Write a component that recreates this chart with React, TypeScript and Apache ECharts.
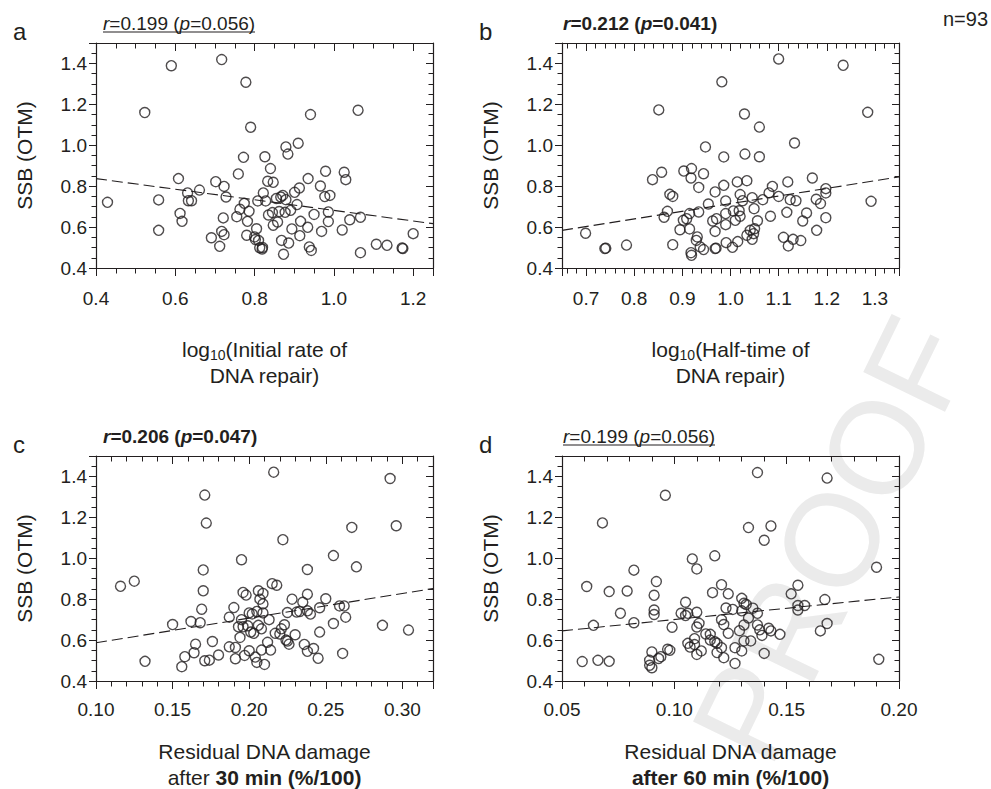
import { useEffect, useRef } from 'react';
import * as echarts from 'echarts';

const FONT = "'Liberation Sans', Arial, Helvetica, sans-serif";
const INK = '#231f20';

// SSB (OTM) against log10(initial rate of DNA repair)
const initialRate: [number, number][] = [
  [0.429, 0.721], [0.523, 1.160], [0.590, 1.389], [0.558, 0.733], [0.558, 0.584], [0.608, 0.837],
  [0.612, 0.667], [0.617, 0.628], [0.631, 0.767], [0.633, 0.729], [0.641, 0.729], [0.661, 0.781],
  [0.702, 0.822], [0.723, 0.799], [0.728, 0.747], [0.721, 0.645], [0.691, 0.548], [0.717, 0.579],
  [0.723, 0.563], [0.712, 0.506], [0.717, 1.419], [0.778, 1.308], [0.790, 1.088], [0.772, 0.941],
  [0.759, 0.860], [0.755, 0.651], [0.763, 0.687], [0.774, 0.716], [0.786, 0.677], [0.782, 0.628],
  [0.780, 0.560], [0.805, 0.592], [0.802, 0.539], [0.810, 0.535], [0.813, 0.499], [0.819, 0.493],
  [0.808, 0.728], [0.822, 0.767], [0.828, 0.728], [0.826, 0.944], [0.833, 0.824], [0.840, 0.886],
  [0.847, 0.819], [0.835, 0.659], [0.845, 0.671], [0.847, 0.609], [0.858, 0.625], [0.868, 0.535],
  [0.873, 0.467], [0.879, 0.992], [0.884, 0.957], [0.866, 0.747], [0.871, 0.755], [0.879, 0.734],
  [0.877, 0.672], [0.891, 0.682], [0.886, 0.522], [0.894, 0.591], [0.901, 0.770], [0.907, 0.710],
  [0.913, 0.791], [0.910, 1.010], [0.916, 0.628], [0.914, 0.558], [0.935, 0.837], [0.941, 1.150],
  [0.934, 0.599], [0.938, 0.503], [0.943, 0.486], [0.950, 0.662], [0.966, 0.801], [0.977, 0.749],
  [0.979, 0.873], [0.990, 0.755], [0.969, 0.579], [0.986, 0.674], [0.986, 0.627], [1.021, 0.586],
  [1.026, 0.868], [1.030, 0.832], [1.040, 0.636], [1.061, 1.171], [1.067, 0.648], [1.067, 0.475],
  [1.107, 0.516], [1.134, 0.511], [1.174, 0.495], [1.172, 0.498], [1.200, 0.568], [0.800, 0.552],
  [0.862, 0.676], [0.855, 0.740], [0.820, 0.500],
];
const initialRateFit: [number, number][] = [[0.4, 0.837], [1.25, 0.617]];

// SSB (OTM) against log10(half-time of DNA repair)
const halfTime: [number, number][] = [
  [0.699, 0.570], [0.739, 0.495], [0.741, 0.497], [0.784, 0.512], [0.851, 1.173], [0.838, 0.832],
  [0.857, 0.868], [0.874, 0.760], [0.880, 0.750], [0.869, 0.677], [0.862, 0.648], [0.880, 0.514],
  [0.895, 0.587], [0.903, 0.874], [0.919, 0.886], [0.918, 0.840], [0.902, 0.633], [0.909, 0.641],
  [0.915, 0.666], [0.915, 0.591], [0.929, 0.535], [0.918, 0.475], [0.919, 0.462], [0.934, 0.794],
  [0.934, 0.674], [0.944, 0.861], [0.948, 0.992], [0.944, 0.490], [0.937, 0.503], [0.954, 0.713],
  [0.963, 0.630], [0.968, 0.772], [0.968, 0.579], [0.968, 0.495], [0.970, 0.497], [0.982, 1.310],
  [0.986, 0.943], [0.986, 0.804], [0.990, 0.728], [0.990, 0.666], [0.990, 0.612], [0.991, 0.524],
  [1.004, 0.501], [1.006, 0.679], [1.010, 0.633], [1.014, 0.821], [1.020, 0.759], [1.025, 0.729],
  [1.020, 0.653], [1.015, 0.529], [1.029, 1.153], [1.030, 0.957], [1.034, 0.827], [1.034, 0.560],
  [1.041, 0.584], [1.045, 0.540], [1.045, 0.744], [1.049, 0.690], [1.056, 0.631], [1.050, 0.592],
  [1.060, 1.089], [1.060, 0.944], [1.067, 0.734], [1.080, 0.767], [1.087, 0.799], [1.083, 0.653],
  [1.100, 1.422], [1.100, 0.750], [1.119, 0.821], [1.117, 0.672], [1.124, 0.734], [1.136, 0.729],
  [1.133, 1.011], [1.110, 0.550], [1.120, 0.508], [1.130, 0.540], [1.146, 0.534], [1.150, 0.630],
  [1.158, 0.669], [1.170, 0.840], [1.178, 0.736], [1.187, 0.715], [1.179, 0.584], [1.198, 0.788],
  [1.198, 0.767], [1.198, 0.646], [1.234, 1.391], [1.285, 1.161], [1.292, 0.726], [1.048, 0.568],
  [0.931, 0.552], [0.971, 0.641], [1.018, 0.680],
];
const halfTimeFit: [number, number][] = [[0.65, 0.584], [1.35, 0.845]];

// SSB (OTM) against residual DNA damage after 30 min
const residual30: [number, number][] = [
  [0.116, 0.863], [0.125, 0.888], [0.132, 0.496], [0.150, 0.676], [0.156, 0.470], [0.158, 0.519],
  [0.162, 0.691], [0.164, 0.538], [0.165, 0.580], [0.168, 0.685], [0.169, 0.751], [0.170, 0.841],
  [0.170, 0.943], [0.171, 1.309], [0.172, 1.172], [0.171, 0.499], [0.174, 0.502], [0.176, 0.593],
  [0.180, 0.527], [0.187, 0.567], [0.187, 0.712], [0.190, 0.759], [0.191, 0.564], [0.191, 0.509],
  [0.193, 0.665], [0.194, 0.613], [0.195, 0.993], [0.196, 0.833], [0.197, 0.525], [0.196, 0.665],
  [0.198, 0.820], [0.200, 0.733], [0.200, 0.548], [0.201, 0.639], [0.202, 0.728], [0.203, 0.633],
  [0.204, 0.517], [0.205, 0.491], [0.206, 0.672], [0.206, 0.841], [0.208, 0.655], [0.208, 0.551],
  [0.209, 0.828], [0.209, 0.777], [0.209, 0.733], [0.210, 0.481], [0.212, 0.589], [0.214, 0.551],
  [0.215, 0.876], [0.218, 0.868], [0.216, 1.421], [0.217, 0.633], [0.221, 0.655], [0.222, 1.091],
  [0.223, 0.675], [0.224, 0.600], [0.225, 0.735], [0.225, 0.595], [0.228, 0.800], [0.231, 0.737],
  [0.230, 0.626], [0.235, 0.785], [0.236, 0.579], [0.238, 0.743], [0.238, 0.824], [0.238, 0.945],
  [0.238, 0.545], [0.240, 0.727], [0.242, 0.559], [0.246, 0.639], [0.246, 0.758], [0.245, 0.511],
  [0.250, 0.802], [0.255, 0.681], [0.255, 1.013], [0.259, 0.767], [0.262, 0.767], [0.263, 0.712],
  [0.261, 0.535], [0.267, 1.151], [0.270, 0.958], [0.287, 0.672], [0.292, 1.390], [0.296, 1.159],
  [0.304, 0.649], [0.205, 0.740], [0.220, 0.630], [0.199, 0.670], [0.233, 0.740], [0.207, 0.800],
  [0.213, 0.700], [0.195, 0.700], [0.226, 0.580],
];
const residual30Fit: [number, number][] = [[0.10, 0.587], [0.32, 0.852]];

// SSB (OTM) against residual DNA damage after 60 min
const residual60: [number, number][] = [
  [0.059, 0.495], [0.066, 0.501], [0.071, 0.496], [0.061, 0.862], [0.064, 0.672], [0.068, 1.173],
  [0.071, 0.837], [0.076, 0.731], [0.079, 0.840], [0.082, 0.942], [0.082, 0.685], [0.089, 0.501],
  [0.089, 0.477], [0.090, 0.465], [0.090, 0.542], [0.091, 0.819], [0.091, 0.747], [0.091, 0.725],
  [0.092, 0.886], [0.094, 0.519], [0.097, 0.555], [0.098, 0.550], [0.096, 1.308], [0.099, 0.663],
  [0.103, 0.731], [0.105, 0.785], [0.106, 0.731], [0.106, 0.584], [0.108, 0.997], [0.109, 0.607],
  [0.107, 0.566], [0.109, 0.578], [0.110, 0.948], [0.110, 0.736], [0.110, 0.664], [0.110, 0.530],
  [0.111, 0.682], [0.112, 0.547], [0.116, 0.628], [0.117, 0.832], [0.118, 1.012], [0.118, 0.592],
  [0.119, 0.584], [0.119, 0.539], [0.121, 0.871], [0.122, 0.676], [0.121, 0.563], [0.122, 0.514],
  [0.123, 0.757], [0.124, 0.826], [0.124, 0.633], [0.127, 0.563], [0.127, 0.486], [0.129, 0.646],
  [0.130, 0.743], [0.130, 0.804], [0.131, 0.674], [0.130, 0.547], [0.131, 0.596], [0.132, 0.774],
  [0.133, 0.708], [0.133, 1.150], [0.134, 0.596], [0.135, 0.756], [0.137, 0.731], [0.137, 1.419],
  [0.137, 0.674], [0.138, 0.650], [0.139, 0.623], [0.140, 1.088], [0.140, 0.535], [0.142, 0.658],
  [0.143, 1.158], [0.143, 0.645], [0.147, 0.628], [0.152, 0.826], [0.155, 0.769], [0.155, 0.868],
  [0.155, 0.747], [0.158, 0.769], [0.165, 0.645], [0.167, 0.798], [0.168, 0.681], [0.168, 1.392],
  [0.190, 0.956], [0.191, 0.506], [0.126, 0.750], [0.121, 0.700], [0.114, 0.630], [0.105, 0.720],
  [0.093, 0.510], [0.116, 0.600], [0.131, 0.780],
];
const residual60Fit: [number, number][] = [[0.05, 0.645], [0.20, 0.811]];

const ssbTicks = { min: 0.4, max: 1.5, step: 0.2, minor: 4 };

interface Panel {
  letter: string;
  stat: string;
  statBold: boolean;
  statUnderline: boolean;
  xName: string;
  xMin: number;
  xMax: number;
  xStep: number;
  xMinor: number;
  xDecimals: number;
  points: [number, number][];
  fit: [number, number][];
  left: number;
  top: number;
  labelMargin: number;
  nameGap: number;
}

const PLOT_W = 337;
const PLOT_H = 225;

const panels: Panel[] = [
  {
    letter: 'a', stat: '{i|r}=0.199 ({i|p}=0.056)', statBold: false, statUnderline: true,
    xName: 'log{sub|10}(Initial rate of\nDNA repair)',
    xMin: 0.4, xMax: 1.25, xStep: 0.2, xMinor: 4, xDecimals: 1,
    points: initialRate, fit: initialRateFit, left: 96, top: 43, labelMargin: 21, nameGap: 68,
  },
  {
    letter: 'b', stat: '{ib|r}=0.212 ({ib|p}=0.041)', statBold: true, statUnderline: false,
    xName: 'log{sub|10}(Half-time of\nDNA repair)',
    xMin: 0.65, xMax: 1.35, xStep: 0.1, xMinor: 5, xDecimals: 1,
    points: halfTime, fit: halfTimeFit, left: 562, top: 43, labelMargin: 21, nameGap: 68,
  },
  {
    letter: 'c', stat: '{ib|r}=0.206 ({ib|p}=0.047)', statBold: true, statUnderline: false,
    xName: 'Residual DNA damage\n{n|after }{b|30 min (%/100)}',
    xMin: 0.10, xMax: 0.32, xStep: 0.05, xMinor: 5, xDecimals: 2,
    points: residual30, fit: residual30Fit, left: 96, top: 456, labelMargin: 19, nameGap: 57,
  },
  {
    letter: 'd', stat: '{i|r}=0.199 ({i|p}=0.056)', statBold: false, statUnderline: true,
    xName: 'Residual DNA damage\n{b|after 60 min (%/100)}',
    xMin: 0.05, xMax: 0.20, xStep: 0.05, xMinor: 5, xDecimals: 2,
    points: residual60, fit: residual60Fit, left: 562, top: 456, labelMargin: 19, nameGap: 57,
  },
];

const onStep = (v: number, step: number) => Math.abs(v / step - Math.round(v / step)) < 1e-6;

const frameLine = () => ({ show: true, onZero: false, lineStyle: { color: INK, width: 1.2 } });
const ticks = (inside: boolean, length: number) => ({
  show: true, inside, length, lineStyle: { color: INK, width: 1 },
});
const minorTicks = (splitNumber: number, length: number) => ({
  show: true, splitNumber, length, lineStyle: { color: INK, width: 1 },
});

function buildOption() {
  const grid: any[] = [];
  const xAxis: any[] = [];
  const yAxis: any[] = [];
  const series: any[] = [];
  const graphic: any[] = [];

  // faint diagonal stamp behind the plots
  graphic.push({
    type: 'text', x: 832, y: 540, rotation: (64 * Math.PI) / 180, z: -10, silent: true,
    style: {
      text: 'PROOF', fontSize: 132, fontFamily: FONT, fill: '#ebebeb',
      align: 'center', verticalAlign: 'middle', textAlign: 'center', textVerticalAlign: 'middle',
    },
  });

  panels.forEach((p, i) => {
    grid.push({ left: p.left, top: p.top, width: PLOT_W, height: PLOT_H, outerBoundsMode: 'none' });

    // x interval is only fixed when min falls on a tick; otherwise splitNumber picks it
    const minOnTick = onStep(p.xMin, p.xStep);
    const span = p.xMax - p.xMin;
    const xScale = (): any => {
      const s: any = { type: 'value', gridIndex: i, min: p.xMin, max: p.xMax, splitLine: { show: false } };
      if (minOnTick) s.interval = p.xStep;
      else s.splitNumber = Math.round(span / p.xStep);
      return s;
    };

    xAxis.push({
      ...xScale(),
      position: 'bottom',
      axisLine: frameLine(),
      axisTick: ticks(false, 8),
      minorTick: minorTicks(p.xMinor, 5.5),
      axisLabel: {
        margin: p.labelMargin, fontSize: 19, fontFamily: FONT, color: INK,
        formatter: (v: number) => (onStep(v, p.xStep) ? v.toFixed(p.xDecimals) : ''),
      },
      name: p.xName,
      nameLocation: 'middle',
      nameGap: p.nameGap,
      nameTextStyle: {
        fontSize: 21, lineHeight: 26, fontFamily: FONT, color: INK,
        rich: {
          sub: { fontSize: 14, lineHeight: 9, verticalAlign: 'bottom', fontFamily: FONT, color: INK },
          n: { fontSize: 21, lineHeight: 26, fontFamily: FONT, color: INK },
          b: { fontSize: 21, lineHeight: 26, fontWeight: 'bold', fontFamily: FONT, color: INK },
        },
      },
    });
    xAxis.push({
      ...xScale(),
      position: 'top',
      axisLine: frameLine(),
      axisTick: ticks(true, 8),
      minorTick: minorTicks(p.xMinor, 5.5),
      axisLabel: { show: false },
    });

    const yScale = (): any => ({
      type: 'value', gridIndex: i, min: ssbTicks.min, max: ssbTicks.max, interval: ssbTicks.step,
      splitLine: { show: false },
    });
    yAxis.push({
      ...yScale(),
      position: 'left',
      axisLine: frameLine(),
      axisTick: ticks(false, 7),
      minorTick: minorTicks(ssbTicks.minor, 4.5),
      axisLabel: {
        margin: 9, fontSize: 19, fontFamily: FONT, color: INK,
        formatter: (v: number) => (onStep(v, ssbTicks.step) ? v.toFixed(1) : ''),
      },
      name: 'SSB (OTM)',
      nameLocation: 'middle',
      nameGap: 61,
      nameTextStyle: { fontSize: 21, fontFamily: FONT, color: INK },
    });
    yAxis.push({
      ...yScale(),
      position: 'right',
      axisLine: frameLine(),
      axisTick: ticks(true, 7),
      minorTick: minorTicks(ssbTicks.minor, 4.5),
      axisLabel: { show: false },
    });

    series.push({
      type: 'line', xAxisIndex: 2 * i, yAxisIndex: 2 * i, data: p.fit,
      symbol: 'none', silent: true,
      lineStyle: { color: INK, width: 1.1, type: [11, 5] },
    });
    series.push({
      type: 'scatter', xAxisIndex: 2 * i, yAxisIndex: 2 * i, data: p.points,
      symbol: 'circle', symbolSize: 10,
      itemStyle: { color: 'rgba(255,255,255,0)', borderColor: INK, borderWidth: 1.4 },
    });

    // panel letter
    graphic.push({
      type: 'text', x: p.left - 83, y: p.top - 12,
      style: {
        text: p.letter, fontSize: 24, fontFamily: FONT, fill: INK,
        align: 'left', verticalAlign: 'middle', textAlign: 'left', textVerticalAlign: 'middle',
      },
    });

    // correlation statistic above the panel
    const weight = p.statBold ? 'bold' : 'normal';
    const statX = p.left + (i % 2 === 0 ? 7 : 1);
    const statY = p.top - 20;
    graphic.push({
      type: 'text', x: statX, y: statY,
      style: {
        text: p.stat, fontSize: 19, fontWeight: weight, fontFamily: FONT, fill: INK,
        align: 'left', verticalAlign: 'middle', textAlign: 'left', textVerticalAlign: 'middle',
        rich: {
          i: { fontSize: 19, fontStyle: 'italic', fontFamily: FONT, fill: INK },
          ib: { fontSize: 19, fontStyle: 'italic', fontWeight: 'bold', fontFamily: FONT, fill: INK },
        },
      },
    });
    if (p.statUnderline) {
      graphic.push({
        type: 'line',
        shape: { x1: statX, y1: statY + 9, x2: statX + 152, y2: statY + 9 },
        style: { stroke: INK, lineWidth: 1.2 },
      });
    }
  });

  graphic.push({
    type: 'text', x: 943, y: 19,
    style: {
      text: 'n=93', fontSize: 20, fontFamily: FONT, fill: INK,
      align: 'left', verticalAlign: 'middle', textAlign: 'left', textVerticalAlign: 'middle',
    },
  });

  return {
    animation: false,
    backgroundColor: '#ffffff',
    grid,
    xAxis,
    yAxis,
    series,
    graphic,
  };
}

export default function App() {
  const ref = useRef<HTMLDivElement>(null);
  useEffect(() => {
    if (!ref.current) return;
    const chart = echarts.init(ref.current, undefined, { renderer: 'svg', width: 991, height: 789 });
    chart.setOption(buildOption() as any);
    return () => chart.dispose();
  }, []);
  return <div ref={ref} style={{ position: 'absolute', left: 0, top: 0, width: 991, height: 789 }} />;
}
